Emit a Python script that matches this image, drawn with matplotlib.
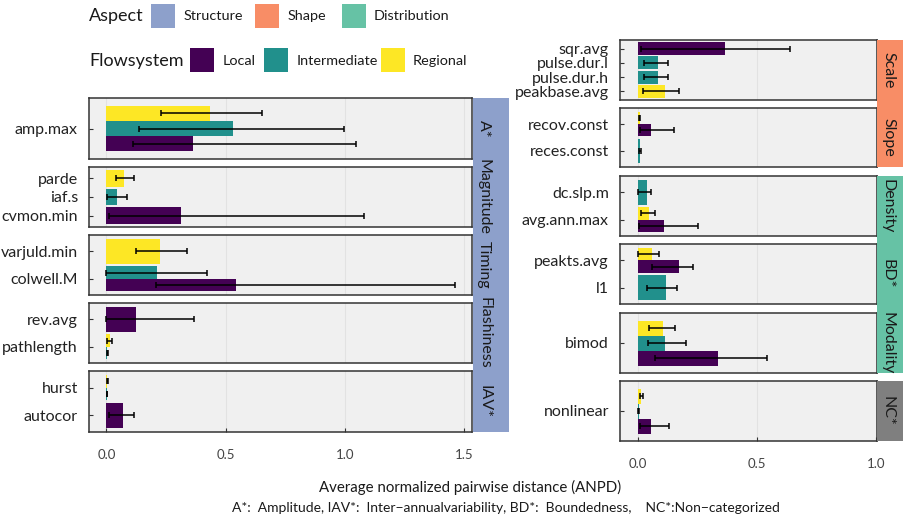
import matplotlib
matplotlib.use("Agg")
import matplotlib.pyplot as plt
from matplotlib.patches import Rectangle

plt.rcParams['font.family'] = ['Lato', 'DejaVu Sans']

# long-format data: one row per bar
facets = ["A*", "A*", "A*",
          "Magnitude", "Magnitude", "Magnitude",
          "Timing", "Timing", "Timing",
          "Flashiness", "Flashiness", "Flashiness",
          "IAV*", "IAV*", "IAV*",
          "Scale", "Scale", "Scale", "Scale",
          "Slope", "Slope", "Slope",
          "Density", "Density", "Density",
          "BD*", "BD*", "BD*",
          "Modality", "Modality", "Modality",
          "NC*", "NC*", "NC*"]
metrics = ["amp.max", "amp.max", "amp.max",
           "parde", "iaf.s", "cvmon.min",
           "varjuld.min", "colwell.M", "colwell.M",
           "rev.avg", "pathlength", "pathlength",
           "hurst", "hurst", "autocor",
           "sqr.avg", "pulse.dur.l", "pulse.dur.h", "peakbase.avg",
           "recov.const", "recov.const", "reces.const",
           "dc.slp.m", "avg.ann.max", "avg.ann.max",
           "peakts.avg", "peakts.avg", "l1",
           "bimod", "bimod", "bimod",
           "nonlinear", "nonlinear", "nonlinear"]
flows = ["Regional", "Intermediate", "Local",
         "Regional", "Intermediate", "Local",
         "Regional", "Intermediate", "Local",
         "Local", "Regional", "Intermediate",
         "Regional", "Intermediate", "Local",
         "Local", "Intermediate", "Intermediate", "Regional",
         "Regional", "Local", "Intermediate",
         "Intermediate", "Regional", "Local",
         "Regional", "Local", "Intermediate",
         "Regional", "Intermediate", "Local",
         "Regional", "Intermediate", "Local"]
anpd = [0.435, 0.532, 0.364,
        0.075, 0.046, 0.314,
        0.226, 0.213, 0.544,
        0.126, 0.017, 0.003,
        0.002, 0.002, 0.071,
        0.366, 0.084, 0.084, 0.113,
        0.007, 0.053, 0.007,
        0.038, 0.046, 0.109,
        0.059, 0.172, 0.118,
        0.105, 0.113, 0.336,
        0.013, 0.002, 0.055]
lower = [0.230, 0.135, 0.112,
         0.039, 0.003, 0.013,
         0.126, 0.000, 0.209,
         0.000, 0.003, 0.002,
         0.002, 0.001, 0.011,
         0.013, 0.025, 0.025, 0.022,
         0.002, 0.008, 0.005,
         0.000, 0.011, 0.004,
         0.001, 0.060, 0.038,
         0.045, 0.041, 0.069,
         0.006, 0.000, 0.006]
upper = [0.651, 0.996, 1.048,
         0.114, 0.085, 1.080,
         0.339, 0.421, 1.461,
         0.366, 0.025, 0.008,
         0.006, 0.004, 0.116,
         0.640, 0.126, 0.127, 0.174,
         0.010, 0.151, 0.012,
         0.055, 0.071, 0.253,
         0.089, 0.231, 0.164,
         0.155, 0.200, 0.542,
         0.019, 0.003, 0.132]

flow_order = ["Local", "Intermediate", "Regional"]
flow_colors = {"Local": "#440154", "Intermediate": "#21908C", "Regional": "#FDE725"}
aspect_names = ["Structure", "Shape", "Distribution"]
aspect_colors = {"Structure": "#8DA0CB", "Shape": "#F88D66", "Distribution": "#66C2A5", "NC": "#7F7F7F"}

W, H = 904, 519
fig = plt.figure(figsize=(W / 100, H / 100), dpi=100)
renderer = fig.canvas.get_renderer()


def fx(x):
    return x / W


def fy(y):
    return 1 - y / H


def add_rect(x0, y0, x1, y1, color):
    fig.add_artist(Rectangle((fx(x0), fy(y1)), fx(x1) - fx(x0), fy(y0) - fy(y1),
                             transform=fig.transFigure, color=color, lw=0))


def fit_size(s, size, width):
    # font size that gives the text s the wanted pixel width
    t = fig.text(0, 0, s, fontsize=size)
    w = t.get_window_extent(renderer).width
    t.remove()
    return size * width / w


def draw_panel(facet, box, xlim, xticks, bottom):
    x0, y0, x1, y1 = box
    ax = fig.add_axes([fx(x0), fy(y1), fx(x1) - fx(x0), fy(y0) - fy(y1)])
    ax.set_facecolor("#F0F0F0")
    rows = [i for i in range(len(facets)) if facets[i] == facet]
    cats = []
    for i in rows:
        if metrics[i] not in cats:
            cats.append(metrics[i])
    cats = cats[::-1]  # bottom to top
    for k, m in enumerate(cats):
        idx = [i for i in rows if metrics[i] == m]
        idx.sort(key=lambda i: flow_order.index(flows[i]))
        w = 0.9 / len(idx)
        for j, i in enumerate(idx):
            yc = k + 1 - 0.45 + w * (j + 0.5)
            ax.barh(yc, anpd[i], height=w, color=flow_colors[flows[i]], zorder=2)
            ax.errorbar(anpd[i], yc, xerr=[[anpd[i] - lower[i]], [upper[i] - anpd[i]]],
                        fmt="none", ecolor="black", elinewidth=1.1, capsize=2,
                        capthick=1.1, zorder=3)
    ax.set_ylim(0.4, len(cats) + 0.6)
    ax.set_yticks(range(1, len(cats) + 1))
    ax.set_yticklabels(cats, fontsize=11.5, color="#222222")
    ax.set_xlim(*xlim)
    ax.set_xticks(xticks)
    ax.xaxis.grid(True, color="#E2E2E2", lw=0.8, zorder=0)
    ax.set_axisbelow(True)
    for s in ax.spines.values():
        s.set_color("#333333")
        s.set_linewidth(1.1)
    ax.tick_params(axis="y", direction="in", length=3, color="#333333", pad=8)
    if bottom:
        ax.set_xticklabels(["%.1f" % t for t in xticks], fontsize=9.5, color="#444444")
        ax.tick_params(axis="x", direction="in", length=3, color="#333333", pad=12)
    else:
        ax.tick_params(axis="x", length=0, labelbottom=False)
    return ax


# left column: Structure
left = [("A*", 98, 159), ("Magnitude", 167, 227), ("Timing", 235, 295),
        ("Flashiness", 303, 363), ("IAV*", 371, 432)]
add_rect(473, 98, 509, 432, aspect_colors["Structure"])
for n, (f, t, b) in enumerate(left):
    draw_panel(f, (89, t, 472, b), (-0.073, 1.534), [0, 0.5, 1.0, 1.5], n == len(left) - 1)
    fig.text(fx(484), fy((t + b) / 2), f, rotation=-90, ha="center", va="center",
             fontsize=11.5, color="#1A1A1A")

# right column: Shape, Distribution, non-categorized
right = [("Scale", 40, 100), ("Slope", 108, 167), ("Density", 176, 236),
         ("BD*", 244, 304), ("Modality", 313, 373), ("NC*", 381, 441)]
add_rect(877, 40, 904, 167, aspect_colors["Shape"])
add_rect(877, 176, 904, 373, aspect_colors["Distribution"])
add_rect(877, 381, 904, 441, aspect_colors["NC"])
for n, (f, t, b) in enumerate(right):
    draw_panel(f, (620, t, 877, b), (-0.076, 1.004), [0, 0.5, 1.0], n == len(right) - 1)
    fig.text(fx(888), fy((t + b) / 2), f, rotation=-90, ha="center", va="center",
             fontsize=11.5, color="#1A1A1A")

# legends
title_size = fit_size("Flowsystem", 12, 94)
label_size = fit_size("Intermediate", 11, 81)
fig.text(fx(89), fy(16), "Aspect", fontsize=title_size, va="center", color="#1A1A1A")
for name, kx, lx in zip(aspect_names, [151, 255, 342], [184, 288, 374]):
    add_rect(kx, 4, kx + 24, 28, aspect_colors[name])
    fig.text(fx(lx), fy(16), name, fontsize=label_size, va="center", color="#1A1A1A")
fig.text(fx(89), fy(61), "Flowsystem", fontsize=title_size, va="center", color="#1A1A1A")
for name, kx, lx in zip(["Local", "Intermediate", "Regional"], [190, 264, 381], [223, 297, 413]):
    add_rect(kx, 48, kx + 24, 72, flow_colors[name])
    fig.text(fx(lx), fy(61), name, fontsize=label_size, va="center", color="#1A1A1A")

xlabel = "Average normalized pairwise distance (ANPD)"
caption = "A*:  Amplitude, IAV*:  Inter\u2212annualvariability, BD*:  Boundedness,    NC*:Non\u2212categorized"
fig.text(fx(470), fy(487), xlabel, ha="center", va="center",
         fontsize=fit_size(xlabel, 12, 300), color="#1A1A1A")
fig.text(fx(506), fy(508), caption, ha="center", va="center",
         fontsize=fit_size(caption, 10, 550), color="#1A1A1A")

fig.savefig("out.png", dpi=100, facecolor="white")
